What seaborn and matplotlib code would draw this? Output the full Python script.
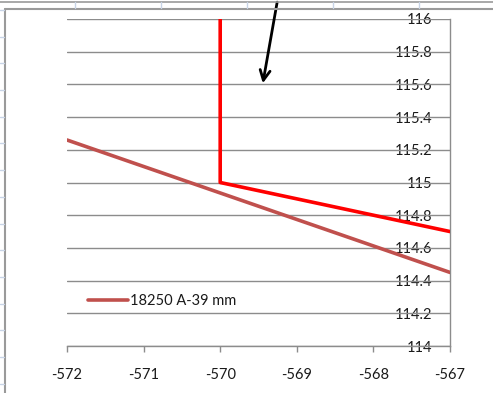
import matplotlib
matplotlib.use("Agg")
import matplotlib.pyplot as plt
from matplotlib.lines import Line2D
import seaborn as sns
import pandas as pd

# Data
red_x = [-570, -570, -567]
red_y = [116.0, 115.0, 114.7]
brown_x = [-572, -567]
brown_y = [115.26, 114.45]
series_label = "18250 A-39 mm"
x_ticks = [-572, -571, -570, -569, -568, -567]
y_ticks = [114, 114.2, 114.4, 114.6, 114.8, 115, 115.2, 115.4, 115.6, 115.8, 116]
y_tick_labels = ["114", "114.2", "114.4", "114.6", "114.8", "115", "115.2", "115.4", "115.6", "115.8", "116"]

sns.set_theme(style="white")
plt.rcParams['font.family'] = ['Lato', 'DejaVu Sans']

W, H = 493, 393
fig = plt.figure(figsize=(W / 100, H / 100), dpi=100)
fig.patch.set_facecolor("white")

ax = fig.add_axes([67 / W, 47 / H, 383 / W, 327 / H])
ax.set_facecolor("none")

df_red = pd.DataFrame({"x": red_x, "y": red_y})
df_brown = pd.DataFrame({"x": brown_x, "y": brown_y, "s": [series_label] * len(brown_x)})

sns.lineplot(data=df_brown, x="x", y="y", hue="s", palette=["#C0504D"], sort=False,
             estimator=None, linewidth=2.6, ax=ax, zorder=3)
sns.lineplot(data=df_red, x="x", y="y", color="#FF0000", sort=False, estimator=None,
             linewidth=2.6, ax=ax, zorder=4, legend=False)

ax.set_xlim(-572, -567)
ax.set_ylim(114, 116)
ax.set_xlabel("")
ax.set_ylabel("")

grid_c = "#8c8c8c"
for yv in y_ticks:
    ax.axhline(yv, color=grid_c, lw=1.0, zorder=1)

for s in ["left", "top"]:
    ax.spines[s].set_visible(False)
ax.spines["bottom"].set_color(grid_c)
ax.spines["right"].set_color(grid_c)
ax.spines["bottom"].set_linewidth(1.0)
ax.spines["right"].set_linewidth(1.0)

ax.set_xticks(x_ticks)
ax.set_xticklabels([str(v) for v in x_ticks])
ax.tick_params(axis="x", direction="out", length=4, width=1.0, color=grid_c,
               pad=12, labelsize=10.5, labelcolor="#1a1a1a", bottom=True)

ax.yaxis.tick_right()
ax.set_yticks(y_ticks)
ax.set_yticklabels(y_tick_labels)
ax.tick_params(axis="y", length=0, pad=-12.5, labelsize=10.5, labelcolor="#1a1a1a")
for lbl in ax.get_yticklabels():
    lbl.set_horizontalalignment("right")

leg = ax.legend(loc="center left", bbox_to_anchor=(0.055, 0.1376), frameon=False,
                fontsize=10.5, handlelength=2.75, handletextpad=0.15,
                borderaxespad=0, borderpad=0)
for t in leg.get_texts():
    t.set_color("#1a1a1a")

# Arrow
ax.annotate("", xy=(-569.45, 115.59), xytext=(-569.25, 116.12),
            arrowprops=dict(arrowstyle="->", color="black", lw=2.0,
                            mutation_scale=18),
            annotation_clip=False, zorder=5)

# Spreadsheet background elements
def fl(x0, y0, x1, y1, c, lw=1.0):
    fig.add_artist(Line2D([x0 / W, x1 / W], [1 - y0 / H, 1 - y1 / H],
                          transform=fig.transFigure, color=c, lw=lw))

fl(0, 1.5, W, 1.5, "#9a9a9a", 1.2)
fl(5, 8.5, W, 8.5, "#9a9a9a", 1.5)
fl(5, 8.5, 5, H, "#9a9a9a", 1.5)
for cx in [75, 161, 247, 333, 419]:
    fl(cx, 2, cx, 8, "#c8d4e6", 1.0)
ry = 10
while ry < H:
    fl(0, ry, 3.5, ry, "#c8d4e6", 1.0)
    ry += 26.7

fig.savefig("out.png", dpi=100)
